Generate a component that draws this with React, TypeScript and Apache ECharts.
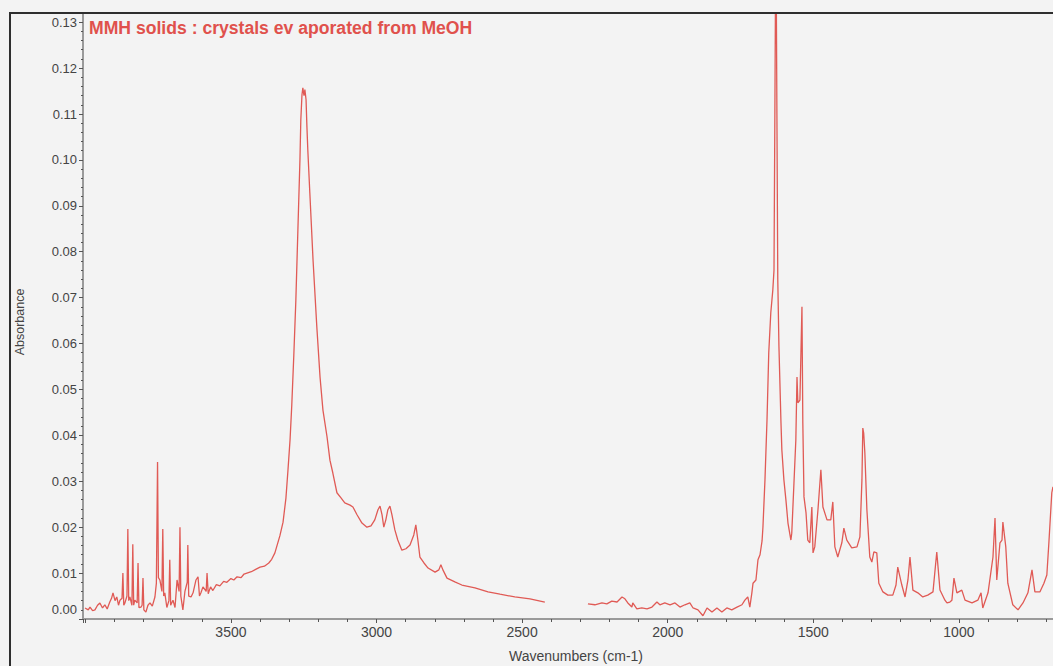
import React, { useEffect, useRef } from "react";
import * as echarts from "echarts";

const TITLE = "MMH solids : crystals ev aporated from MeOH";
const X_NAME = "Wavenumbers (cm-1)";
const Y_NAME = "Absorbance";
const X_TICK_LABELS = [1000, 1500, 2000, 2500, 3000, 3500];
const X_MIN = 500;
const X_MAX = 4008;
const Y_MIN = 0;
const Y_MAX = 0.132;

// 4000 - 3360 cm-1 : baseline with water-vapour lines
const seg1: number[][] = [
  [4001, 0.0024], [3990, 0.002], [3984, 0.0026], [3975, 0.0018], [3967, 0.002], [3958, 0.003],
  [3950, 0.0035], [3941, 0.0024], [3933, 0.0031], [3925, 0.0022], [3916, 0.0037], [3910, 0.0045],
  [3905, 0.0057], [3898, 0.004], [3892, 0.0048], [3886, 0.003], [3881, 0.0041], [3874, 0.0045],
  [3871, 0.01], [3868, 0.003], [3864, 0.0035], [3857, 0.005], [3854, 0.0196], [3851, 0.004],
  [3847, 0.0048], [3840, 0.003], [3837, 0.0163], [3834, 0.003], [3830, 0.0041], [3822, 0.0035],
  [3819, 0.0122], [3816, 0.0025], [3809, 0.0026], [3805, 0.003], [3802, 0.0089], [3799, 0.002],
  [3792, 0.0015], [3785, 0.003], [3778, 0.0035], [3770, 0.0028], [3761, 0.0048], [3756, 0.0078],
  [3752, 0.0342], [3749, 0.009], [3744, 0.0085], [3737, 0.006], [3734, 0.0196], [3731, 0.005],
  [3727, 0.0057], [3720, 0.0025], [3713, 0.004], [3710, 0.0129], [3707, 0.003], [3699, 0.0041],
  [3692, 0.0025], [3685, 0.0085], [3678, 0.006], [3675, 0.02], [3672, 0.005], [3665, 0.002],
  [3658, 0.006], [3650, 0.008], [3648, 0.0161], [3645, 0.005], [3637, 0.0048], [3630, 0.0057],
  [3620, 0.0085], [3613, 0.0092], [3608, 0.005], [3603, 0.0057], [3596, 0.007], [3585, 0.006],
  [3582, 0.01], [3578, 0.0055], [3570, 0.007], [3562, 0.0062], [3550, 0.0075], [3538, 0.0072],
  [3525, 0.0082], [3514, 0.008], [3500, 0.0088], [3490, 0.0085], [3479, 0.0092], [3465, 0.009],
  [3455, 0.0098], [3445, 0.01], [3430, 0.0103], [3415, 0.0108], [3400, 0.0113], [3385, 0.0115],
  [3370, 0.0122], [3360, 0.013],
];

// 3350 - 2420 cm-1 : N-H / C-H stretch region
const seg2: number[][] = [
  [3349, 0.0144], [3332, 0.0181], [3321, 0.0211], [3311, 0.0264], [3304, 0.0325], [3297, 0.039],
  [3291, 0.0466], [3284, 0.0575], [3277, 0.0695], [3270, 0.0848], [3263, 0.1], [3260, 0.1087],
  [3256, 0.1142], [3253, 0.1157], [3249, 0.114], [3246, 0.1153], [3242, 0.1131], [3239, 0.1072],
  [3236, 0.1022], [3229, 0.0928], [3218, 0.0782], [3205, 0.0636], [3194, 0.0527], [3184, 0.0455],
  [3170, 0.0397], [3160, 0.0346], [3150, 0.0318], [3136, 0.0275], [3122, 0.0264], [3109, 0.0253],
  [3091, 0.0248], [3081, 0.0244], [3067, 0.0227], [3050, 0.0209], [3033, 0.02], [3019, 0.0203],
  [3006, 0.0216], [2995, 0.0238], [2988, 0.0246], [2981, 0.0227], [2975, 0.02], [2968, 0.0216],
  [2961, 0.0238], [2954, 0.0246], [2947, 0.0227], [2937, 0.0194], [2927, 0.0172], [2913, 0.015],
  [2899, 0.0153], [2885, 0.0161], [2872, 0.0183], [2865, 0.0205], [2858, 0.0172], [2851, 0.0135],
  [2837, 0.0122], [2823, 0.0111], [2799, 0.0102], [2786, 0.0107], [2779, 0.0118], [2772, 0.0107],
  [2758, 0.0089], [2731, 0.0081], [2707, 0.0074], [2662, 0.0068], [2617, 0.0059], [2576, 0.0054],
  [2525, 0.0048], [2473, 0.0044], [2422, 0.0037],
];

// 2275 - 677 cm-1 : fingerprint region
const seg3: number[][] = [
  [2274, 0.0033], [2250, 0.0031], [2226, 0.0035], [2209, 0.0033], [2192, 0.0039], [2174, 0.0037],
  [2157, 0.0048], [2147, 0.0044], [2137, 0.0035], [2123, 0.0026], [2120, 0.0035], [2106, 0.0022],
  [2089, 0.0024], [2071, 0.0022], [2054, 0.0026], [2037, 0.0037], [2027, 0.0031], [2010, 0.0035],
  [1992, 0.0031], [1975, 0.0035], [1958, 0.0026], [1941, 0.0031], [1924, 0.0035], [1913, 0.0024],
  [1896, 0.002], [1879, 0.0007], [1865, 0.0024], [1848, 0.0015], [1831, 0.0024], [1814, 0.0015],
  [1797, 0.0024], [1780, 0.002], [1762, 0.0026], [1745, 0.0031], [1735, 0.0041], [1725, 0.0048],
  [1718, 0.0026], [1711, 0.0057], [1707, 0.0078], [1697, 0.0085], [1690, 0.0129], [1683, 0.014],
  [1676, 0.017], [1673, 0.02], [1666, 0.0303], [1659, 0.0434], [1653, 0.058], [1646, 0.0667],
  [1639, 0.0717], [1635, 0.076], [1632, 0.11], [1630, 0.135], [1627, 0.135], [1625, 0.11],
  [1622, 0.0739], [1618, 0.0593], [1611, 0.0427], [1608, 0.0368], [1601, 0.0303], [1594, 0.0259],
  [1587, 0.0209], [1577, 0.0172], [1574, 0.0187], [1567, 0.0288], [1560, 0.039], [1556, 0.0527],
  [1553, 0.0471], [1546, 0.0477], [1539, 0.068], [1536, 0.0427], [1532, 0.0266], [1525, 0.0231],
  [1519, 0.0172], [1512, 0.0166], [1505, 0.0244], [1501, 0.0144], [1495, 0.0157], [1484, 0.0238],
  [1474, 0.0325], [1467, 0.0244], [1453, 0.0216], [1440, 0.0216], [1433, 0.0255], [1426, 0.0157],
  [1416, 0.0135], [1402, 0.0166], [1395, 0.0198], [1385, 0.0172], [1368, 0.0155], [1350, 0.0157],
  [1340, 0.0179], [1333, 0.0303], [1330, 0.0416], [1327, 0.0405], [1323, 0.0362], [1316, 0.0238],
  [1306, 0.0135], [1299, 0.0124], [1292, 0.0146], [1282, 0.0144], [1275, 0.0078], [1261, 0.0059],
  [1244, 0.0052], [1227, 0.0052], [1216, 0.0074], [1210, 0.0113], [1196, 0.0074], [1185, 0.0048],
  [1175, 0.0085], [1168, 0.0135], [1158, 0.0063], [1141, 0.0057], [1124, 0.0048], [1107, 0.0052],
  [1089, 0.0059], [1076, 0.0146], [1065, 0.0063], [1048, 0.0041], [1041, 0.0035], [1031, 0.0037],
  [1024, 0.0041], [1017, 0.0089], [1007, 0.0057], [990, 0.0063], [979, 0.0041], [955, 0.0035],
  [935, 0.0041], [924, 0.0057], [918, 0.0024], [900, 0.0057], [883, 0.0135], [876, 0.022],
  [870, 0.0085], [859, 0.0166], [852, 0.0172], [849, 0.0211], [839, 0.0157], [832, 0.0078],
  [815, 0.0031], [797, 0.002], [780, 0.0035], [763, 0.0057], [749, 0.0107], [739, 0.0059],
  [722, 0.0059], [708, 0.0078], [698, 0.0096], [691, 0.0166], [681, 0.0275], [677, 0.0288],
];

// CO2 region removed from the spectrum: the line is broken here
const GAP_AT = 2350;

const FONT = "'Liberation Sans', Arial, Helvetica, sans-serif";
const LINE_COLOR = "#e05a55";
const TEXT_COLOR = "#444444";

export default function App() {
  const ref = useRef<HTMLDivElement>(null);

  useEffect(() => {
    if (!ref.current) return;
    const chart = echarts.init(ref.current, undefined, { renderer: "svg" });
    const data: any[] = [...seg1, ...seg2, [GAP_AT, "-"], ...seg3];

    chart.setOption({
      animation: false,
      backgroundColor: "#f3f3f3",
      title: {
        text: TITLE,
        left: 89,
        top: 19,
        padding: 0,
        textStyle: { color: "#e0514c", fontSize: 17.6, fontWeight: "bold", fontFamily: FONT },
      },
      grid: { left: 83, top: 13, width: 1021.5, height: 606, containLabel: false },
      xAxis: {
        type: "value",
        inverse: true,
        min: X_MIN,
        max: X_MAX,
        interval: 500,
        axisLine: { show: true, onZero: false, lineStyle: { color: "#9a9a9a", width: 2 } },
        axisTick: { show: true, length: 4, lineStyle: { color: "#555" } },
        minorTick: { show: true, splitNumber: 5, length: 3, lineStyle: { color: "#555" } },
        splitLine: { show: false },
        axisLabel: {
          margin: 6,
          fontSize: 14,
          color: TEXT_COLOR,
          fontFamily: FONT,
          formatter: (v: number) => (X_TICK_LABELS.indexOf(v) >= 0 ? String(v) : ""),
        },
      },
      yAxis: {
        type: "value",
        min: Y_MIN,
        max: Y_MAX,
        interval: 0.01,
        axisLine: { show: true, onZero: false, lineStyle: { color: "#9a9a9a", width: 2 } },
        axisTick: { show: true, length: 4, lineStyle: { color: "#555" } },
        minorTick: { show: true, splitNumber: 5, length: 2, lineStyle: { color: "#555" } },
        splitLine: { show: false },
        axisLabel: {
          margin: 6,
          fontSize: 13,
          color: TEXT_COLOR,
          fontFamily: FONT,
          formatter: (v: number) => {
            const k = Math.round(v * 100);
            if (Math.abs(v * 100 - k) > 1e-6) return "";
            if (k === 0) return "{z|0.00}";
            return (k / 100).toFixed(2);
          },
          rich: { z: { padding: [0, 0, 20, 0], fontSize: 13, color: TEXT_COLOR, fontFamily: FONT } },
        },
      },
      graphic: [
        {
          type: "rect",
          silent: true,
          z: 100,
          shape: { x: 10, y: 13, width: 1300, height: 900 },
          style: { fill: "none", stroke: "#2e2e2e", lineWidth: 2 },
        },
        {
          type: "text",
          x: 576,
          y: 656,
          style: { text: X_NAME, fill: TEXT_COLOR, font: `14px ${FONT}`, align: "center", verticalAlign: "middle" },
        },
        {
          type: "text",
          x: 20,
          y: 322,
          rotation: Math.PI / 2,
          style: { text: Y_NAME, fill: TEXT_COLOR, font: `12.5px ${FONT}`, align: "center", verticalAlign: "middle" },
        },
      ],
      series: [
        {
          type: "line",
          data,
          showSymbol: false,
          connectNulls: false,
          clip: true,
          lineStyle: { color: LINE_COLOR, width: 1.3 },
        },
      ],
    });
    return () => chart.dispose();
  }, []);

  return (
    <div style={{ position: "fixed", left: 0, top: 0, width: 1053, height: 666, overflow: "hidden", background: "#f3f3f3" }}>
      <div ref={ref} style={{ width: 1110, height: 666 }} />
    </div>
  );
}
